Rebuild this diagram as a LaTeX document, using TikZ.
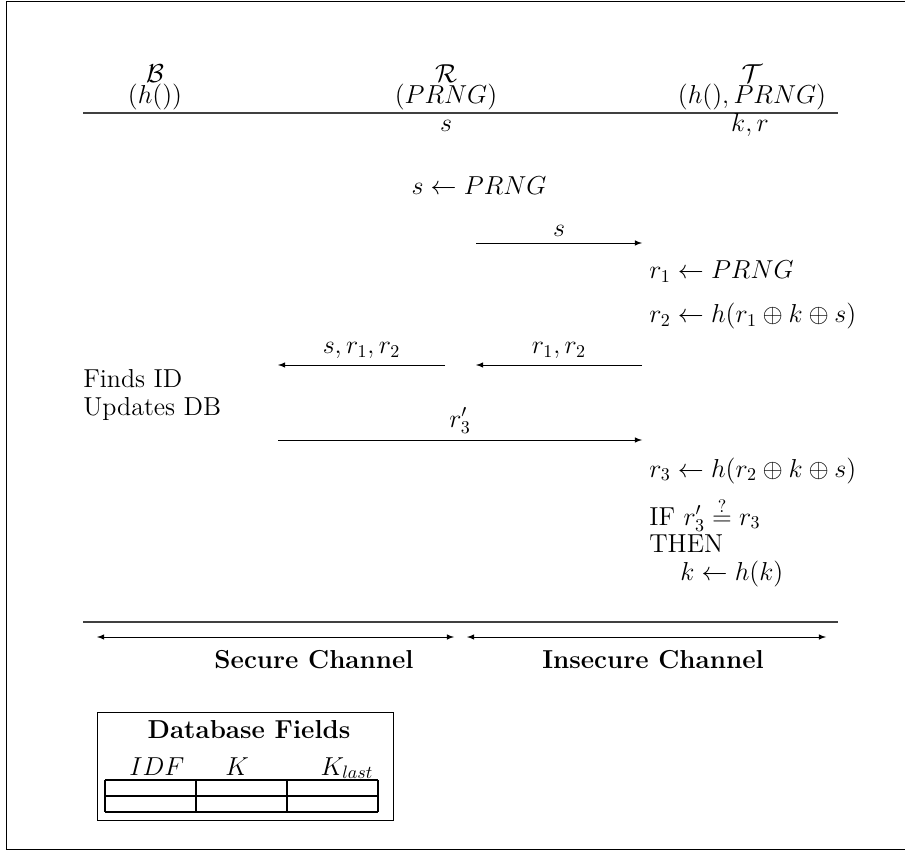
\documentclass[tikz,border=0pt]{standalone}
\usetikzlibrary{arrows}
\tikzset{
  every node/.style={font=\fontsize{14.4}{15.5}\selectfont},
  msg/.style={-latex},
  chan/.style={latex-latex},
  lbl/.style={above},
  hrule/.style={line width=0.6pt,black!75},
  party/.style={anchor=base,inner sep=0pt},
  step text/.style={anchor=base west,inner sep=0pt},
}

\begin{document}
\begin{tikzpicture}[x=0.555pt,y=-0.555pt]
\useasboundingbox (0,0) rectangle (905,851);
\draw (905,1.5) -- (6.5,1.5) -- (6.5,849.5) -- (905,849.5);

% parties
\node[party] (bank) at (155,83) {$\mathcal{B}$};
\node[party] (bank fn) at (155,104) {$(h())$};
\node[party] (reader) at (446,83) {$\mathcal{R}$};
\node[party] (reader fn) at (446,104) {$(PRNG)$};
\node[party] (tag) at (752,83) {$\mathcal{T}$};
\node[party] (tag fn) at (752,104) {$(h(),PRNG)$};
\coordinate (top l) at (83,113);
\coordinate (top r) at (838,113);
\draw[hrule] (top l) -- (top r);

% stored values
\node[party] (reader key) at (446,132) {$s$};
\node[party] (tag key) at (750,132) {$k,r$};

% protocol
\node[party] (seed) at (479,195) {$s \leftarrow PRNG$};
\coordinate (s from) at (476,243);
\coordinate (s to) at (642,243);
\draw[msg] (s from) -- node[lbl] {$s$} (s to);

\node[step text] (rone) at (649,279) {$r_1 \leftarrow PRNG$};
\node[step text] (rtwo) at (649,323) {$r_2 \leftarrow h(r_1 \oplus k \oplus s)$};

\coordinate (tr from) at (642,365);
\coordinate (tr to) at (476,365);
\draw[msg] (tr from) -- node[lbl] {$r_1,r_2$} (tr to);
\coordinate (rb from) at (445,365);
\coordinate (rb to) at (278,365);
\draw[msg] (rb from) -- node[lbl] {$s,r_1,r_2$} (rb to);

\node[step text] (find) at (83,388) {Finds ID};
\node[step text] (update) at (83,416) {Updates DB};

\coordinate (bt from) at (278,440);
\coordinate (bt to) at (642,440);
\draw[msg] (bt from) -- node[lbl] {$r'_3$} (bt to);

\node[step text] (rthree) at (649,477) {$r_3 \leftarrow h(r_2 \oplus k \oplus s)$};
\node[step text] (check) at (649,525) {IF $r'_3 \stackrel{?}{=} r_3$};
\node[step text] (then) at (649,552) {THEN};
\node[step text] (renew) at (680,580) {$k \leftarrow h(k)$};

% channels
\coordinate (bot l) at (83,622);
\coordinate (bot r) at (838,622);
\draw[hrule] (bot l) -- (bot r);
\coordinate (sec l) at (97,637);
\coordinate (sec r) at (454,637);
\coordinate (ins l) at (467,637);
\coordinate (ins r) at (826,637);
\draw[chan] (sec l) -- (sec r);
\draw[chan] (ins l) -- (ins r);
\node[party] (secure) at (314,668) {\textbf{Secure Channel}};
\node[party] (insecure) at (653,668) {\textbf{Insecure Channel}};

% database fields
\coordinate (db nw) at (97,712);
\coordinate (db se) at (393,820);
\draw (db nw) rectangle (db se);
\node[party] (db title) at (249,738) {\textbf{Database Fields}};
\node[party] (idf) at (157,775) {$IDF$};
\node[party] (key) at (237,775) {$K$};
\node[party] (klast) at (347,775) {$K_{last}$};
\foreach \y in {780,796,812}
  \draw[thick] (105,\y) -- (378,\y);
\foreach \x in {105,196,287,378}
  \draw[thick] (\x,780) -- (\x,812);
\end{tikzpicture}
\end{document}
